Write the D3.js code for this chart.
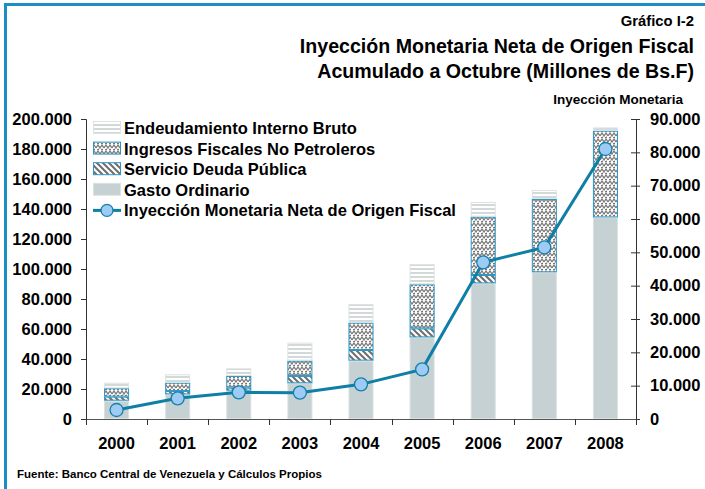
<!DOCTYPE html>
<html><head><meta charset="utf-8">
<script src="https://cdn.jsdelivr.net/npm/d3@7"></script>
<style>
html,body{margin:0;padding:0;background:#fff;}
svg{display:block;font-family:Arial,"Liberation Sans",sans-serif;}
</style></head>
<body>
<svg id="chart" width="705" height="489"></svg>
<script>
const years = ["2000","2001","2002","2003","2004","2005","2006","2007","2008"];
const gastoOrdinario = [12200,16400,18900,23800,38900,54400,90400,97800,134400];
const servicioDeuda = [2700,2300,2000,4900,7100,6000,5600,0,0];
const ingresosNoPetroleros = [5600,5500,7800,10200,18200,29400,38900,48900,57800];
const endeudamientoInterno = [3700,5600,5100,12000,12500,13500,9800,6000,2200];
const inyeccionMonetaria = [2700,6200,8000,7900,10400,14900,47000,51500,81000];
const leftTicks = [0,20000,40000,60000,80000,100000,120000,140000,160000,180000,200000];
const rightTicks = [0,10000,20000,30000,40000,50000,60000,70000,80000,90000];

const svg = d3.select("#chart");
const loc = d3.formatLocale({decimal:",",thousands:".",grouping:[3],currency:["",""]});
const fmt = loc.format(",d");
const FS = 16.5;

// frame
svg.append("path").attr("d","M5.5,489 V4.5 H705").attr("fill","none").attr("stroke","#1a8fc4").attr("stroke-width",3);

// patterns
const defs = svg.append("defs");
const pE = defs.append("pattern").attr("id","pEnd").attr("patternUnits","userSpaceOnUse").attr("width",6).attr("height",4);
pE.append("rect").attr("width",6).attr("height",4).attr("fill","#fff");
pE.append("rect").attr("y",0).attr("width",6).attr("height",2).attr("fill","#d3d8d9");
const pI = defs.append("pattern").attr("id","pIng").attr("patternUnits","userSpaceOnUse").attr("width",8).attr("height",6);
pI.append("rect").attr("width",8).attr("height",6).attr("fill","#fff");
pI.append("path").attr("d","M0,4 L2,1 L4,4 L6,1 L8,4").attr("fill","none").attr("stroke","#7a7a7a").attr("stroke-width",1.3);
pI.append("path").attr("d","M1,6 L3,5 M5,6 L7,5").attr("fill","none").attr("stroke","#333").attr("stroke-width",0.9);
const pS = defs.append("pattern").attr("id","pSer").attr("patternUnits","userSpaceOnUse").attr("width",6).attr("height",6);
pS.append("rect").attr("width",6).attr("height",6).attr("fill","#fff");
pS.append("path").attr("d","M-1,-1 L7,7 M-4,2 L2,8 M2,-4 L8,2").attr("stroke","#6e6e6e").attr("stroke-width",2);

const x = d3.scaleBand().domain(years).range([86,636]).paddingInner(0.59).paddingOuter(0.295);
const yL = d3.scaleLinear().domain([0,200000]).range([419,119]);
const yR = d3.scaleLinear().domain([0,90000]).range([419,119]);

// stacked data
const rows = years.map((y,i)=>({year:y,gasto:gastoOrdinario[i],servicio:servicioDeuda[i],ingresos:ingresosNoPetroleros[i],endeud:endeudamientoInterno[i]}));
const keys = ["gasto","servicio","ingresos","endeud"];
const series = d3.stack().keys(keys)(rows);
const fills = {gasto:"#c5d1d2",servicio:"url(#pSer)",ingresos:"url(#pIng)",endeud:"url(#pEnd)"};
const strokes = {gasto:"#dbe1e1",servicio:"#2a97c6",ingresos:"#2a97c6",endeud:"#dde2e3"};

const g = svg.append("g");
series.forEach(s=>{
  g.selectAll(null).data(s.filter(d=>d[1]-d[0]>0)).join("rect")
    .attr("x",d=>x(d.data.year)+0.5)
    .attr("y",d=>yL(d[1])+0.5)
    .attr("width",x.bandwidth()-1)
    .attr("height",d=>Math.max(0,yL(d[0])-yL(d[1])-1))
    .attr("fill",fills[s.key])
    .attr("stroke",strokes[s.key])
    .attr("stroke-width",1);
});

// axes
const axL = svg.append("g").attr("transform","translate(86,0)")
  .call(d3.axisLeft(yL).tickValues(leftTicks).tickFormat(fmt).tickSize(5).tickPadding(9));
axL.select(".domain").attr("stroke","#333");
axL.selectAll(".tick line").attr("stroke","#333");
axL.selectAll("text").attr("font-size",FS).attr("font-weight","bold").attr("fill","#000").attr("font-family","Arial,'Liberation Sans',sans-serif");

const axR = svg.append("g").attr("transform","translate(636,0)")
  .call(d3.axisRight(yR).tickValues(rightTicks).tickFormat(fmt).tickSize(4).tickPadding(10));
axR.select(".domain").attr("stroke","#333");
axR.selectAll(".tick line").attr("stroke","#333").attr("x1",-5);
axR.selectAll("text").attr("font-size",FS).attr("font-weight","bold").attr("fill","#000").attr("font-family","Arial,'Liberation Sans',sans-serif");

// x axis
const axX = svg.append("g");
axX.append("line").attr("x1",86).attr("x2",636).attr("y1",419.5).attr("y2",419.5).attr("stroke","#555");
const bounds = years.map(y=>x(y)-x.step()*x.paddingInner()/2).concat([636]);
bounds[0]=86;
axX.selectAll(".xt").data(bounds).join("line")
  .attr("x1",d=>Math.round(d)+0.5).attr("x2",d=>Math.round(d)+0.5).attr("y1",419).attr("y2",425).attr("stroke","#333");
axX.selectAll(".xl").data(years).join("text")
  .attr("x",d=>x(d)+x.bandwidth()/2).attr("y",449).attr("text-anchor","middle")
  .attr("font-size",FS).attr("font-weight","bold").text(d=>d);

// line
const line = d3.line().x((d,i)=>x(years[i])+x.bandwidth()/2).y(d=>yR(d));
svg.append("path").datum(inyeccionMonetaria).attr("d",line).attr("fill","none").attr("stroke","#0f7fa6").attr("stroke-width",3);
svg.selectAll(".pt").data(inyeccionMonetaria).join("circle")
  .attr("cx",(d,i)=>x(years[i])+x.bandwidth()/2).attr("cy",d=>yR(d)).attr("r",6.5)
  .attr("fill","#9dcbf4").attr("stroke","#1780aa").attr("stroke-width",1.3);

// legend
const legendItems = [
  {label:"Endeudamiento Interno Bruto",key:"endeud"},
  {label:"Ingresos Fiscales No Petroleros",key:"ingresos"},
  {label:"Servicio Deuda Pública",key:"servicio"},
  {label:"Gasto Ordinario",key:"gasto"},
  {label:"Inyección Monetaria Neta de Origen Fiscal",key:"line"}
];
const lg = svg.append("g");
legendItems.forEach((it,i)=>{
  const cy = 128 + i*20.6;
  if(it.key==="line"){
    lg.append("line").attr("x1",93).attr("x2",121).attr("y1",cy).attr("y2",cy).attr("stroke","#0f7fa6").attr("stroke-width",3);
    lg.append("circle").attr("cx",107).attr("cy",cy).attr("r",6).attr("fill","#9dcbf4").attr("stroke","#1780aa").attr("stroke-width",1.3);
  } else {
    lg.append("rect").attr("x",93.5).attr("y",cy-6.5).attr("width",27).attr("height",12)
      .attr("fill",fills[it.key]).attr("stroke",strokes[it.key]).attr("stroke-width",1);
  }
  lg.append("text").attr("x",124).attr("y",cy+6).attr("font-size",FS).attr("font-weight","bold").text(it.label);
});

// titles
function title(txt,xr,y,fs){
  svg.append("text").attr("x",xr).attr("y",y).attr("text-anchor","end").attr("font-size",fs).attr("font-weight","bold").text(txt);
}
title("Gráfico I-2",694,26,14.8);
title("Inyección Monetaria Neta de Origen Fiscal",694,53,19.6);
title("Acumulado a Octubre (Millones de Bs.F)",694,78,19.6);
title("Inyección Monetaria",683,104,13.5);
svg.append("text").attr("x",17).attr("y",478).attr("font-size",11.5).attr("font-weight","bold")
  .text("Fuente: Banco Central de Venezuela y Cálculos Propios");
</script>
</body></html>
